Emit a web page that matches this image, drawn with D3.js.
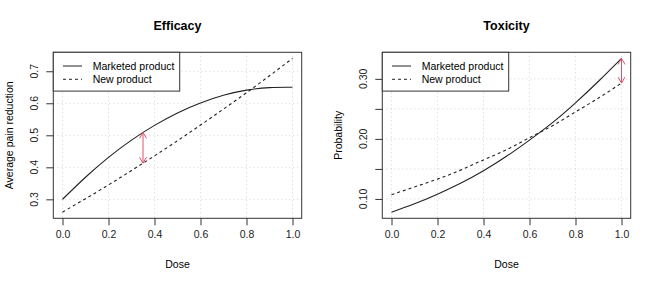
<!DOCTYPE html>
<html>
<meta charset="utf-8">
<style>

    body {
        margin: 0;
        background: #fff;
    }

    svg {
        font-family: "Liberation Sans", Arial, sans-serif;
        font-size: 10.5px;
    }

    .grid line {
        stroke: #d3d3d3;
        stroke-dasharray: 1,3;
    }

</style>
<body>
<script src="https://d3js.org/d3.v7.min.js"></script>
<script>

    // values
    var dose = [0, 0.1, 0.2, 0.3, 0.4, 0.5, 0.6, 0.7, 0.8, 0.9, 1.0];

    var effMarketed = [0.300, 0.369, 0.431, 0.485, 0.531, 0.570, 0.601, 0.625, 0.641, 0.649, 0.650];
    var effNew      = [0.260, 0.302, 0.345, 0.390, 0.436, 0.483, 0.532, 0.582, 0.633, 0.686, 0.740];

    var toxMarketed = [0.078, 0.092, 0.108, 0.126, 0.147, 0.171, 0.198, 0.227, 0.260, 0.296, 0.334];
    var toxNew      = [0.107, 0.120, 0.133, 0.148, 0.165, 0.182, 0.202, 0.222, 0.245, 0.268, 0.293];

    // arrows: [dose, from, to]
    var effArrow = [0.35, 0.413, 0.509];
    var toxArrow = [1.0, 0.293, 0.334];

    var xTicks = [0, 0.2, 0.4, 0.6, 0.8, 1.0];
    var xTickLabels = ["0.0", "0.2", "0.4", "0.6", "0.8", "1.0"];
    var effYTicks = [0.3, 0.4, 0.5, 0.6, 0.7];
    var effYLabels = ["0.3", "0.4", "0.5", "0.6", "0.7"];
    var toxYTicks = [0.10, 0.15, 0.20, 0.25, 0.30];
    var toxYLabels = ["0.10", "", "0.20", "", "0.30"];

    var legendNames = ["Marketed product", "New product"];

    var width = 658, height = 285;
    var pinkCol = "#DF536B";

    var svg = d3.select("body")
        .append("svg")
        .attr("width", width)
        .attr("height", height);

    function drawPanel(p) {
        var left = p.left, right = p.left + 248.4,
            top = 52.3, bottom = 218.3;

        var x = d3.scaleLinear()
            .domain([-0.04, 1.04])
            .range([left, right]);

        var all = p.marketed.concat(p.newer);
        var ext = d3.extent(all);
        var pad = (ext[1] - ext[0]) * 0.04;
        var y = d3.scaleLinear()
            .domain([ext[0] - pad, ext[1] + pad])
            .range([bottom, top]);

        var g = svg.append("g");

        // grid
        var grid = g.append("g").attr("class", "grid");
        grid.selectAll(".gx")
            .data(xTicks)
            .enter().append("line")
            .attr("x1", function(d) { return x(d); })
            .attr("x2", function(d) { return x(d); })
            .attr("y1", top).attr("y2", bottom);
        grid.selectAll(".gy")
            .data(p.yTicks)
            .enter().append("line")
            .attr("y1", function(d) { return y(d); })
            .attr("y2", function(d) { return y(d); })
            .attr("x1", left).attr("x2", right);

        // axes
        var xAxis = d3.axisBottom(x)
            .tickValues(xTicks)
            .tickSize(7)
            .tickPadding(5)
            .tickFormat(function(d, i) { return xTickLabels[i]; });
        var gx = g.append("g")
            .attr("transform", "translate(0," + bottom + ")")
            .call(xAxis);
        gx.select(".domain").remove();
        gx.selectAll("line").attr("stroke", "#333");
        gx.selectAll("text")
            .attr("font-size", "10.5px")
            .attr("fill", "#222");

        var yAxis = d3.axisLeft(y)
            .tickValues(p.yTicks)
            .tickSize(7)
            .tickFormat("");
        var gy = g.append("g")
            .attr("transform", "translate(" + left + ",0)")
            .call(yAxis);
        gy.select(".domain").remove();
        gy.selectAll("line").attr("stroke", "#333");

        g.selectAll(".ylab")
            .data(p.yTicks)
            .enter().append("text")
            .attr("class", "ylab")
            .attr("transform", function(d) {
                return "translate(" + (left - 19) + "," + y(d) + ") rotate(-90)";
            })
            .attr("text-anchor", "middle")
            .attr("dominant-baseline", "central")
            .attr("fill", "#222")
            .text(function(d, i) { return p.yLabels[i]; });

        // box
        g.append("rect")
            .attr("x", left).attr("y", top)
            .attr("width", right - left).attr("height", bottom - top)
            .attr("fill", "none")
            .attr("stroke", "#333");

        // titles
        g.append("text")
            .attr("x", (left + right) / 2)
            .attr("y", 26)
            .attr("text-anchor", "middle")
            .attr("dominant-baseline", "central")
            .attr("font-weight", "bold")
            .attr("font-size", "12.5px")
            .text(p.title);

        g.append("text")
            .attr("x", (left + right) / 2)
            .attr("y", 264.3)
            .attr("text-anchor", "middle")
            .attr("dominant-baseline", "central")
            .text("Dose");

        g.append("text")
            .attr("transform", "translate(" + (left - 44.5) + "," + ((top + bottom) / 2) + ") rotate(-90)")
            .attr("text-anchor", "middle")
            .attr("dominant-baseline", "central")
            .text(p.ylabel);

        // curves
        var line = d3.line()
            .x(function(d, i) { return x(dose[i]); })
            .y(function(d) { return y(d); })
            .curve(d3.curveNatural);

        g.append("path")
            .datum(p.marketed)
            .attr("d", line)
            .attr("fill", "none")
            .attr("stroke", "#222")
            .attr("stroke-width", 1.1);

        g.append("path")
            .datum(p.newer)
            .attr("d", line)
            .attr("fill", "none")
            .attr("stroke", "#222")
            .attr("stroke-width", 1.1)
            .attr("stroke-dasharray", "3,3");

        // double headed arrow
        var ax = x(p.arrow[0]), y0 = y(p.arrow[1]), y1 = y(p.arrow[2]);
        var hl = 7, hw = 3.5, hh = 6;
        var ag = g.append("g")
            .attr("stroke", pinkCol)
            .attr("fill", "none")
            .attr("stroke-width", 1);
        ag.append("line")
            .attr("x1", ax).attr("x2", ax)
            .attr("y1", y0).attr("y2", y1);
        ag.append("path")
            .attr("d", "M" + (ax - hw) + "," + (y1 + hh) + "L" + ax + "," + y1 + "L" + (ax + hw) + "," + (y1 + hh));
        ag.append("path")
            .attr("d", "M" + (ax - hw) + "," + (y0 - hh) + "L" + ax + "," + y0 + "L" + (ax + hw) + "," + (y0 - hh));

        // legend
        var lg = g.append("g");
        lg.append("rect")
            .attr("x", left).attr("y", top)
            .attr("width", 126.4).attr("height", 38.8)
            .attr("fill", "#fff")
            .attr("stroke", "#333");
        lg.selectAll(".lgline")
            .data(legendNames)
            .enter().append("line")
            .attr("x1", left + 9.7).attr("x2", left + 28.7)
            .attr("y1", function(d, i) { return top + 13.7 + i * 13.3; })
            .attr("y2", function(d, i) { return top + 13.7 + i * 13.3; })
            .attr("stroke", "#222")
            .attr("stroke-dasharray", function(d, i) { return i ? "3,3" : null; });
        lg.selectAll(".lgtext")
            .data(legendNames)
            .enter().append("text")
            .attr("x", left + 39.4)
            .attr("y", function(d, i) { return top + 13.7 + i * 13.3; })
            .attr("dominant-baseline", "central")
            .text(function(d) { return d; });
    }

    drawPanel({
        left: 53.3,
        title: "Efficacy",
        ylabel: "Average pain reduction",
        marketed: effMarketed,
        newer: effNew,
        yTicks: effYTicks,
        yLabels: effYLabels,
        arrow: effArrow
    });

    drawPanel({
        left: 382.3,
        title: "Toxicity",
        ylabel: "Probability",
        marketed: toxMarketed,
        newer: toxNew,
        yTicks: toxYTicks,
        yLabels: toxYLabels,
        arrow: toxArrow
    });

</script>
</html>
